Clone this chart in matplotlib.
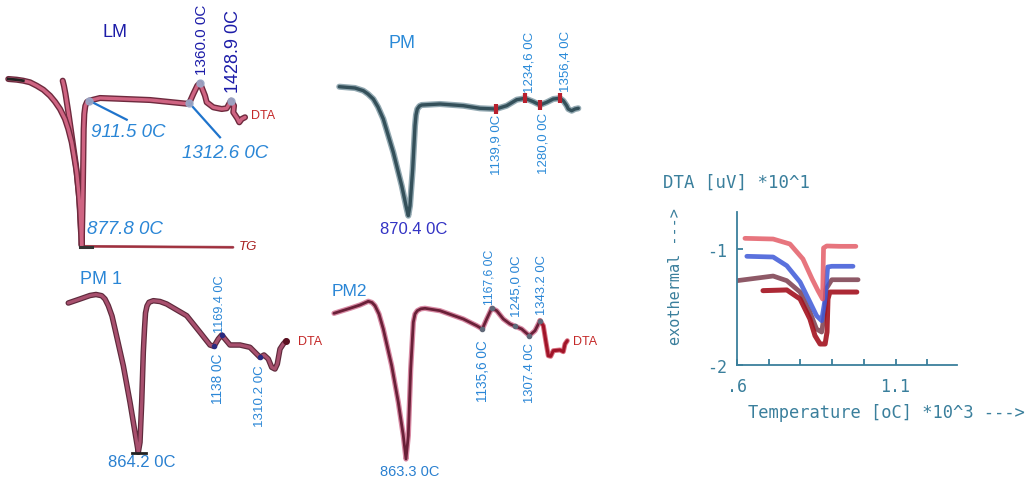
import matplotlib
matplotlib.use("Agg")
import matplotlib.pyplot as plt
import matplotlib.patheffects as pe

plt.rcParams['font.family'] = ['Liberation Sans', 'DejaVu Sans']

FW, FH = 1029, 481
fig = plt.figure(figsize=(FW / 100, FH / 100), dpi=100)

# ---------------- data ----------------
# LM panel: scan position / deflection (downward = endothermic)
lm_x = [8.3, 16.7, 23.3, 30, 36.7, 43.3, 50, 55, 60, 65, 68.3, 71.7, 74, 76.7, 78.7, 80, 81, 81.7,
        82.7, 83.3, 83.7, 84.3, 85.3, 87, 89.3,
        100, 150, 186.7, 189.3, 193.3, 197.3, 200, 205, 206.7, 213.3, 221.7,
        226.7, 231, 234, 233.3, 237.3, 239.3, 241.7, 245]
lm_y = [80, 80.7, 81.7, 83.3, 86.7, 90.7, 96.7, 102.7, 110, 120, 130, 143.3, 156.7, 173.3, 193.3, 210, 230, 246.7,
        200, 160, 130, 115, 107, 103, 101.7,
        99, 101, 104.7, 104, 95, 86.7, 84, 96.7, 103.3, 108.3, 110,
        109.3, 101.7, 106.7, 113.3, 119.3, 123.3, 120, 118.3]
lm_b_x = [62.7, 64, 65.5, 68.3, 71.7, 76, 79.3, 81]
lm_b_y = [81.7, 87, 95, 113, 136.7, 166.7, 200, 233]
lm_tg_x = [81.7, 233]
lm_tg_y = [247.3, 248.3]
lm_peak_labels = ["911.5 0C", "1312.6 0C", "1360.0 0C", "1428.9 0C"]
lm_peak_x = [89.3, 189.3, 200, 231]
lm_peak_y = [101.7, 104, 84, 101.7]

# PM panel
pm_x = [9.3, 25, 33.3, 38, 43.3, 48, 53.3, 63.3, 71.7, 76.7, 78.3, 80, 82.7, 85, 86, 87.3, 89.5, 91.7,
        110, 133.3, 150, 166, 176.7, 186.7, 195, 203.3, 210, 216.7, 223.3, 230,
        233.3, 236.7, 238.3, 241.7, 245, 248.3]
pm_y = [87.7, 89, 91.7, 95, 100, 108, 120, 153.3, 186.7, 210, 216.7, 206.7, 170, 126.7, 116, 110, 107, 106,
        105, 106.7, 109.3, 110, 106.7, 100.7, 99.3, 102.7, 106, 103.3, 100, 99.3,
        101.7, 106.7, 110, 111.7, 110, 109.3]
pm_peak_labels = ["1139,9 0C", "1234,6 0C", "1280,0 0C", "1356,4 0C"]
pm_peak_x = [166, 195, 210, 230]
pm_peak_y = [110, 99.3, 106, 99.3]

# PM 1 panel
pm1_x = [8.3, 20, 30, 36, 41.7, 45, 48.3, 52, 55, 63.3, 70, 75, 78.3, 80, 81.7, 83.3, 84.5, 85.5, 87,
         89, 93.3, 100, 106.7, 126.7, 140, 150, 154, 158.3, 161.7, 165, 170, 180, 190, 196.7,
         200, 204, 208.3, 211.7, 215, 217.3, 220, 223.3, 226]
pm1_y = [54, 50, 46.5, 45.5, 46.7, 50, 56.7, 67, 80, 116.7, 153.3, 183.3, 203.3, 193.3, 153.3, 103.3,
         80, 64, 57, 53.3, 51.7, 52.5, 55, 66.7, 83.3, 96, 97.3, 90, 86, 90, 96, 96, 98.3, 105,
         108.3, 106, 110, 118.3, 120, 115, 100, 95, 92]
pm1_peak_labels = ["1138 0C", "1169.4 0C", "1310.2 0C"]
pm1_peak_x = [154, 161.7, 200]
pm1_peak_y = [97.3, 86, 108.3]

# PM2 panel
pm2_x = [4, 20, 30, 38.3, 42, 45, 49, 53.3, 61.7, 68.3, 73.3, 76, 78.3, 80.7, 83.3, 85, 87.3, 91,
         95, 110, 133.3, 146.7, 152.3, 156.7, 161.7, 166.7, 173.3, 180, 185.3, 191.7, 199.3,
         205, 210]
pm2_y = [64.3, 59.3, 56, 52.3, 53.5, 56.7, 65, 80, 116.7, 153.3, 186.7, 210, 186.7, 120, 73.3, 65,
         61.7, 59.8, 59.3, 61.7, 70, 76.7, 80, 70, 59.3, 61.7, 70, 75, 77.3, 80, 86.7, 81.7, 71.7]
pm2_tail_x = [210, 213.3, 216, 218.3, 220.7, 223.3, 230, 233.3, 235, 237.3]
pm2_tail_y = [71.7, 76.7, 93.3, 106.7, 107.3, 101.7, 101, 102.7, 95, 91.7]
pm2_peak_labels = ["1135,6 0C", "1167,6 0C", "1245,0 0C", "1307.4 0C", "1343.2 0C"]
pm2_peak_x = [152.3, 161.7, 185.3, 199.3, 210]
pm2_peak_y = [80, 59.3, 77.3, 86.7, 71.7]

# right chart: DTA [uV]*10^1 vs Temperature [oC]*10^3
red_t = [0.625, 0.714, 0.767, 0.808, 0.837, 0.856, 0.870, 0.873, 0.883, 0.925, 0.975]
red_v = [-0.908, -0.914, -0.957, -1.086, -1.259, -1.362, -1.431, -0.991, -0.974, -0.977, -0.977]
blue_t = [0.631, 0.714, 0.757, 0.799, 0.830, 0.851, 0.867, 0.878, 0.883, 0.886, 0.899, 0.966]
blue_v = [-1.063, -1.069, -1.144, -1.285, -1.457, -1.575, -1.618, -1.431, -1.259, -1.155, -1.149, -1.149]
mauve_t = [0.600, 0.714, 0.757, 0.799, 0.830, 0.851, 0.867, 0.878, 0.881, 0.899, 0.982]
mauve_v = [-1.273, -1.233, -1.273, -1.371, -1.543, -1.690, -1.716, -1.517, -1.345, -1.265, -1.265]
dred_t = [0.682, 0.757, 0.799, 0.830, 0.846, 0.862, 0.878, 0.884, 0.887, 0.893, 0.978]
dred_v = [-1.359, -1.353, -1.431, -1.603, -1.747, -1.819, -1.819, -1.716, -1.431, -1.371, -1.371]
x_ticks = [0.6, 0.7, 0.8, 0.9, 1.0, 1.1, 1.2]
x_tick_labels = ['.6', '', '', '', '', '1.1', '']
y_ticks = [-2, -1]
y_tick_labels = ['-2', '-1']


# ---------------- helpers ----------------
def panel_axes(left, top, width, height):
    ax = fig.add_axes([left / FW, 1 - (top + height) / FH, width / FW, height / FH])
    ax.set_xlim(0, width)
    ax.set_ylim(height, 0)
    ax.axis('off')
    ax.patch.set_alpha(0)
    return ax


def curve(ax, x, y, core, edge, lw=2.3, elw=4.2, z=2):
    ax.plot(x, y, color=core, lw=lw, solid_capstyle='round', solid_joinstyle='round',
            zorder=z, path_effects=[pe.Stroke(linewidth=elw, foreground=edge), pe.Normal()])


LBLUE = '#2a86d6'
DBLUE = '#1c1ca8'
DTARED = '#c42828'

# ---------------- LM ----------------
ax1 = panel_axes(0, 0, 300, 260)
curve(ax1, lm_tg_x, lm_tg_y, '#a0303c', '#b06070', lw=1.3, elw=2.0)
ax1.plot([80, 92], [247.5, 247.5], color='#333333', lw=2.2, zorder=3)
curve(ax1, lm_b_x, lm_b_y, '#cf6482', '#6e2a3e', lw=2.4, elw=4.4)
curve(ax1, lm_x, lm_y, '#cf6482', '#6e2a3e', lw=2.4, elw=4.4)
ax1.plot(lm_x[:3], lm_y[:3], color='#222222', lw=2.0, zorder=3)
ax1.plot(lm_peak_x, lm_peak_y, 'o', ms=5, color='#9aa6c6', alpha=0.9, zorder=4)
ax1.plot([lm_peak_x[0], 126.7], [lm_peak_y[0], 120.7], color='#1f74cc', lw=1.6, zorder=3)
ax1.plot([lm_peak_x[1], 220], [lm_peak_y[1], 138.3], color='#1f74cc', lw=1.6, zorder=3)
ax1.text(115, 33, "LM", color=DBLUE, fontsize=13, ha='center', va='center')
ax1.text(lm_peak_x[2] + 1.5, 75, lm_peak_labels[2], rotation=90, color=DBLUE,
         fontsize=11, ha='center', va='bottom')
ax1.text(lm_peak_x[3] + 2, 93, lm_peak_labels[3], rotation=90, color=DBLUE,
         fontsize=13, ha='center', va='bottom')
ax1.text(90.7, 133, lm_peak_labels[0], color=LBLUE, fontsize=13.5, style='italic',
         ha='left', va='center')
ax1.text(181.7, 153.3, lm_peak_labels[1], color=LBLUE, fontsize=13.5, style='italic',
         ha='left', va='center')
ax1.text(87.3, 229.3, "877.8 0C", color=LBLUE, fontsize=13.5, style='italic',
         ha='left', va='center')
ax1.text(251.5, 116, "DTA", color=DTARED, fontsize=9, ha='left', va='center')
ax1.text(239, 246.7, "TG", color='#a82020', fontsize=9.5, style='italic',
         ha='left', va='center')

# ---------------- PM ----------------
ax2 = panel_axes(330, 0, 290, 250)
curve(ax2, pm_x, pm_y, '#34505a', '#93a9b2', lw=2.4, elw=4.4)
ax2.plot(pm_peak_x, pm_peak_y, '|', ms=7, mew=3, color='#b8202e', zorder=4)
ax2.text(71.7, 43.3, "PM", color='#2a8ad8', fontsize=13, ha='center', va='center')
ax2.text(83.3, 230, "870.4 0C", color='#3333c4', fontsize=12, ha='center', va='center')
ax2.text(166.7, 115, pm_peak_labels[0], rotation=90, color='#2a8ad8', fontsize=9.5,
         ha='center', va='top')
ax2.text(200, 93.3, pm_peak_labels[1], rotation=90, color='#2a8ad8', fontsize=9.5,
         ha='center', va='bottom')
ax2.text(213.3, 113.3, pm_peak_labels[2], rotation=90, color='#2a8ad8', fontsize=9.5,
         ha='center', va='top')
ax2.text(235, 91.7, pm_peak_labels[3], rotation=90, color='#2a8ad8', fontsize=9.5,
         ha='center', va='bottom')

# ---------------- PM 1 ----------------
ax3 = panel_axes(60, 250, 270, 231)
curve(ax3, pm1_x, pm1_y, '#a8506e', '#5e2a3c', lw=2.3, elw=4.0)
ax3.plot([72, 86], [204, 204], color='#222222', lw=2.0, zorder=3)
ax3.plot(pm1_peak_x, pm1_peak_y, 'o', ms=3, color='#2a2a80', zorder=4)
ax3.plot(pm1_x[-1:], pm1_y[-1:], 'o', ms=4, color='#5a1020', zorder=4)
ax3.text(40.8, 30, "PM 1", color='#2a86d6', fontsize=13, ha='center', va='center')
ax3.text(81.7, 212.7, "864.2 0C", color='#2a80d0', fontsize=12, ha='center', va='center')
ax3.text(158.3, 103.3, pm1_peak_labels[0], rotation=90, color='#2a86d6', fontsize=9.8,
         ha='center', va='top')
ax3.text(160, 83.3, pm1_peak_labels[1], rotation=90, color='#2a86d6', fontsize=9.2,
         ha='center', va='bottom')
ax3.text(200, 115, pm1_peak_labels[2], rotation=90, color='#2a86d6', fontsize=9.6,
         ha='center', va='top')
ax3.text(238.3, 91.7, "DTA", color=DTARED, fontsize=9, ha='left', va='center')

# ---------------- PM2 ----------------
ax4 = panel_axes(330, 250, 290, 231)
curve(ax4, pm2_x, pm2_y, '#6a2038', '#d88aa4', lw=2.0, elw=3.8)
curve(ax4, pm2_tail_x, pm2_tail_y, '#a01428', '#d87080', lw=2.2, elw=3.6)
ax4.plot(pm2_peak_x, pm2_peak_y, 'o', ms=3, color='#606878', zorder=4)
ax4.text(19.3, 41.7, "PM2", color='#2a86d6', fontsize=12.5, ha='center', va='center')
ax4.text(80, 221.7, "863.3 0C", color='#2a80d0', fontsize=10.5, ha='center', va='center')
ax4.text(153.3, 90, pm2_peak_labels[0], rotation=90, color='#2a86d6', fontsize=9.8,
         ha='center', va='top')
ax4.text(160, 55, pm2_peak_labels[1], rotation=90, color='#2a86d6', fontsize=8.8,
         ha='center', va='bottom')
ax4.text(186.7, 66.7, pm2_peak_labels[2], rotation=90, color='#2a86d6', fontsize=9.6,
         ha='center', va='bottom')
ax4.text(200, 93, pm2_peak_labels[3], rotation=90, color='#2a86d6', fontsize=9.4,
         ha='center', va='top')
ax4.text(211.7, 65, pm2_peak_labels[4], rotation=90, color='#2a86d6', fontsize=9.4,
         ha='center', va='bottom')
ax4.text(242.7, 91.7, "DTA", color=DTARED, fontsize=9, ha='left', va='center')

# ---------------- right chart ----------------
TEAL = '#3a7f9c'
MONO = ['DejaVu Sans Mono']
ax5 = fig.add_axes([737 / FW, 1 - 366 / FH, 220 / FW, 153 / FH])
ax5.patch.set_alpha(0)
ax5.set_xlim(0.6, 0.6 + 220 / 317)
ax5.set_ylim(-2, -2 + 153 / 116)
for s in ['top', 'right']:
    ax5.spines[s].set_visible(False)
for s in ['left', 'bottom']:
    ax5.spines[s].set_color(TEAL)
    ax5.spines[s].set_linewidth(1.3)
ax5.set_xticks(x_ticks)
ax5.set_xticklabels(x_tick_labels, family=MONO, fontsize=12, color=TEAL)
ax5.set_yticks(y_ticks)
ax5.set_yticklabels(y_tick_labels, family=MONO, fontsize=12, color=TEAL)
ax5.tick_params(axis='x', direction='in', length=4, width=1.3, color=TEAL, pad=9)
ax5.tick_params(axis='y', direction='in', length=4, width=1.3, color=TEAL, pad=7)

ax5.plot(mauve_t, mauve_v, color='#7a3c4c', lw=3.4, alpha=0.85, solid_capstyle='round')
ax5.plot(dred_t, dred_v, color='#a3121f', lw=3.6, alpha=0.9, solid_capstyle='round')
ax5.plot(blue_t, blue_v, color='#3d58d8', lw=3.4, alpha=0.85, solid_capstyle='round')
ax5.plot(red_t, red_v, color='#e2535e', lw=3.4, alpha=0.8, solid_capstyle='round')

fig.text(663 / FW, 1 - 183 / FH, "DTA [uV] *10^1", family=MONO, fontsize=12.5,
         color=TEAL, ha='left', va='center')
fig.text(675 / FW, 1 - 277 / FH, "exothermal --->", family=MONO, fontsize=11,
         color=TEAL, rotation=90, ha='center', va='center')
fig.text(748 / FW, 1 - 413 / FH, "Temperature [oC] *10^3 --->", family=MONO,
         fontsize=12.3, color=TEAL, ha='left', va='center')

fig.savefig("out.png", dpi=100, facecolor='white')
